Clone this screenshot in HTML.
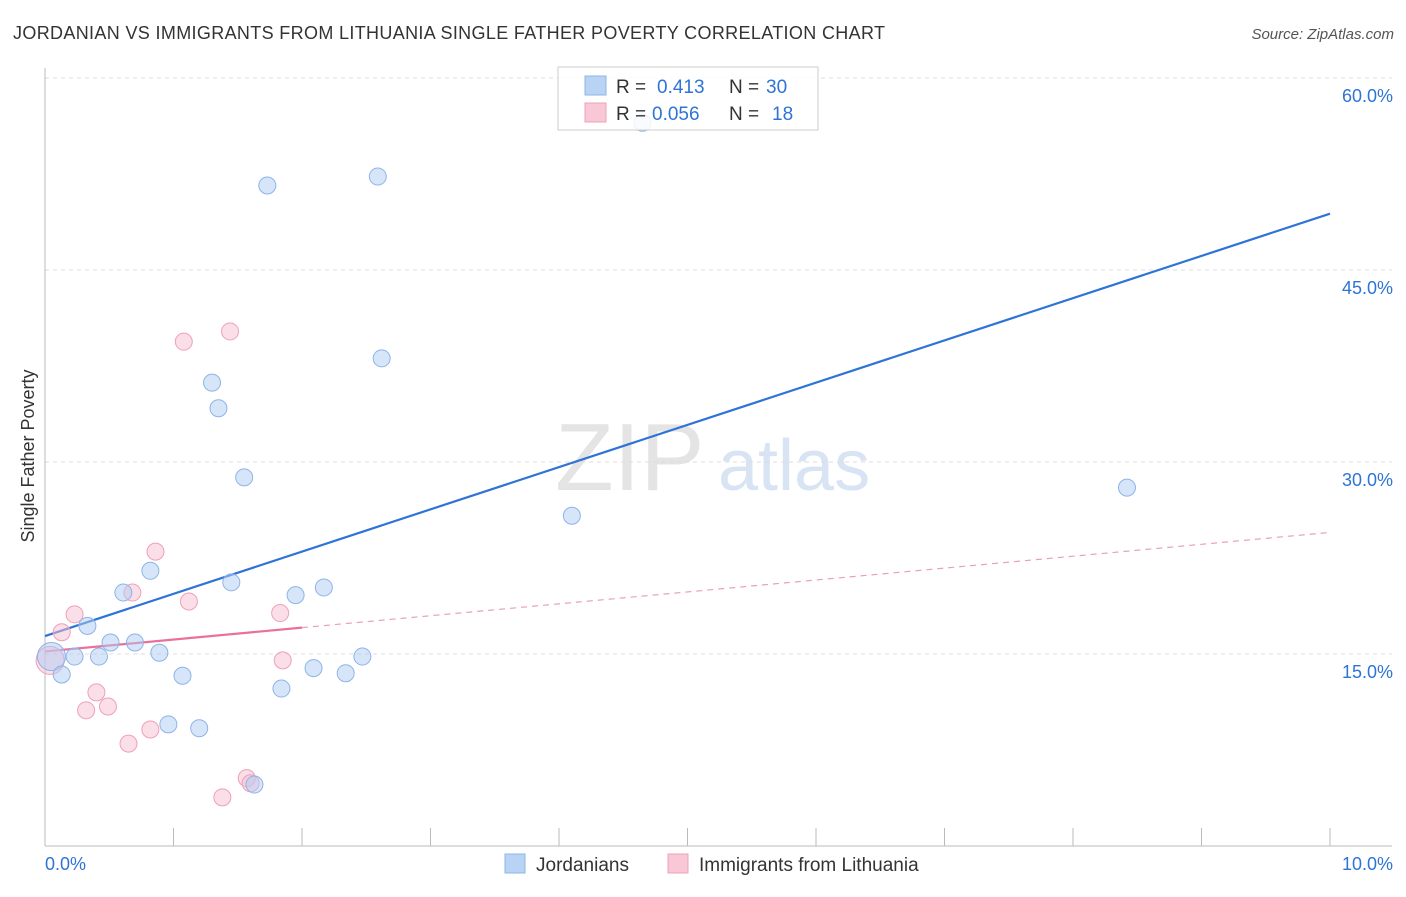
<!DOCTYPE html>
<html><head><meta charset="utf-8"><style>
body{margin:0;background:#fff;font-family:"Liberation Sans",sans-serif;}
svg text{font-family:"Liberation Sans",sans-serif;}
</style></head><body>
<svg id="chart" width="1406" height="892" xmlns="http://www.w3.org/2000/svg">
<text x="13" y="39" font-size="18" fill="#333" textLength="872">JORDANIAN VS IMMIGRANTS FROM LITHUANIA SINGLE FATHER POVERTY CORRELATION CHART</text>
<text x="1394" y="39" font-size="15" fill="#555" text-anchor="end" font-style="italic">Source: ZipAtlas.com</text>
<g>
<text x="555" y="490" font-size="96" fill="#e4e4e4" font-family="Liberation Serif">ZIP</text>
<text x="718" y="490" font-size="72" fill="#d8e4f4">atlas</text>
</g>
<text transform="translate(34,456) rotate(-90)" font-size="18" fill="#333" text-anchor="middle">Single Father Poverty</text>
<g id="grid"></g><g id="axes"></g><g id="trends"></g><g id="pts"></g>
<g>
<rect x="558" y="67" width="260" height="63" fill="#fff" fill-opacity="0.85" stroke="#ccc"/>
<rect x="585" y="76" width="21" height="19" fill="#b9d3f5" stroke="#8db4e8"/>
<text x="616" y="93" font-size="19" fill="#333">R = </text><text x="657" y="93" font-size="19" fill="#2e74d6">0.413</text>
<text x="729" y="93" font-size="19" fill="#333">N = </text><text x="766" y="93" font-size="19" fill="#2e74d6">30</text>
<rect x="585" y="103" width="21" height="19" fill="#f8c8d6" stroke="#f0a0b8"/>
<text x="616" y="120" font-size="19" fill="#333">R = </text><text x="652" y="120" font-size="19" fill="#2e74d6">0.056</text>
<text x="729" y="120" font-size="19" fill="#333">N = </text><text x="772" y="120" font-size="19" fill="#2e74d6">18</text>
</g>
<g>
<rect x="505" y="854" width="20" height="19" fill="#b9d3f5" stroke="#8db4e8"/>
<text x="536" y="871" font-size="19" fill="#333">Jordanians</text>
<rect x="668" y="854" width="20" height="19" fill="#f8c8d6" stroke="#f0a0b8"/>
<text x="699" y="871" font-size="19" fill="#333">Immigrants from Lithuania</text>
</g>
</svg>
<script>
const yTicks=[15,30,45,60];
const yTickLabels=["15.0%","30.0%","45.0%","60.0%"];
const xEndLabels=["0.0%","10.0%"];
const jordX=[1.73,2.59,4.65,2.62,1.30,1.35,1.55,4.10,8.42,0.82,1.45,0.61,1.95,2.17,0.33,0.51,0.70,0.89,0.23,0.42,0.05,0.13,1.07,2.09,2.34,2.47,1.84,0.96,1.20,1.63];
const jordY=[51.6,52.3,56.5,38.1,36.2,34.2,28.8,25.8,28.0,21.5,20.6,19.8,19.6,20.2,17.2,15.9,15.9,15.1,14.8,14.8,14.8,13.4,13.3,13.9,13.5,14.8,12.3,9.5,9.2,4.8];
const lithX=[1.44,1.08,0.86,0.68,1.12,0.23,1.83,0.13,0.04,1.85,0.40,0.32,0.49,0.82,0.65,1.57,1.60,1.38];
const lithY=[40.2,39.4,23.0,19.8,19.1,18.1,18.2,16.7,14.5,14.5,12.0,10.6,10.9,9.1,8.0,5.3,4.9,3.8];
const jordTrend=[16.4,49.4];
const lithTrend=[15.2,24.5];
const lithSolidEnd=2.0;
const NS="http://www.w3.org/2000/svg";
const xS=v=>45+v*128.5, yS=v=>846-v*12.8;
function mk(tag,attrs,parent){const e=document.createElementNS(NS,tag);for(const k in attrs)e.setAttribute(k,attrs[k]);parent.appendChild(e);return e;}
const grid=document.getElementById('grid'),axes=document.getElementById('axes'),tr=document.getElementById('trends'),pts=document.getElementById('pts');
yTicks.forEach((t,i)=>{
 const l=mk('line',{x1:45,x2:1392,y1:yS(t),y2:yS(t),stroke:'#ddd','stroke-dasharray':'4,4'},grid);
 
 
 const tx=mk('text',{x:1393,y:yS(t)+24,'font-size':18,fill:'#2e74d6','text-anchor':'end'},grid);
 tx.textContent=yTickLabels[i];
 
 
});
const ya=mk('line',{x1:45,x2:45,y1:68,y2:846,stroke:'#bbb'},axes);


const xa=mk('line',{x1:45,x2:1392,y1:846,y2:846,stroke:'#bbb'},axes);


for(let i=0;i<=10;i++){
 const t=mk('line',{x1:xS(i),x2:xS(i),y1:828,y2:846,stroke:'#bbb'},axes);
 
 
}
[[0,'start'],[10,'end']].forEach(([v,a],i)=>{
 const t=mk('text',{x:xS(v)+(i?63:0),y:870,'font-size':18,fill:'#2e74d6','text-anchor':a},axes);
 t.textContent=xEndLabels[i];
 
 
});
function pt(x,y,big,blue){
 return mk('circle',{cx:xS(x),cy:yS(y),r:big?14:8.5,fill:blue?'rgba(176,204,243,0.5)':'rgba(246,190,210,0.5)',stroke:blue?'#8db4e8':'#f0a0b8','stroke-width':1},pts);
}
lithX.forEach((x,i)=>{const c=pt(x,lithY[i],i===8,false);
 
 });
jordX.forEach((x,i)=>{const c=pt(x,jordY[i],i===20,true);
 
 });
const bl=mk('line',{x1:xS(0),y1:yS(jordTrend[0]),x2:xS(10),y2:yS(jordTrend[1]),stroke:'#2e74d6','stroke-width':2.2},tr);


const ly=x=>lithTrend[0]+(lithTrend[1]-lithTrend[0])*x/10;
const pl=mk('line',{x1:xS(0),y1:yS(ly(0)),x2:xS(lithSolidEnd),y2:yS(ly(lithSolidEnd)),stroke:'#e8709a','stroke-width':2.2},tr);


const pd=mk('line',{x1:xS(lithSolidEnd),y1:yS(ly(lithSolidEnd)),x2:xS(10),y2:yS(ly(10)),stroke:'#e8a0b8','stroke-width':1.2,'stroke-dasharray':'6,5'},tr);


</script>
</body></html>
